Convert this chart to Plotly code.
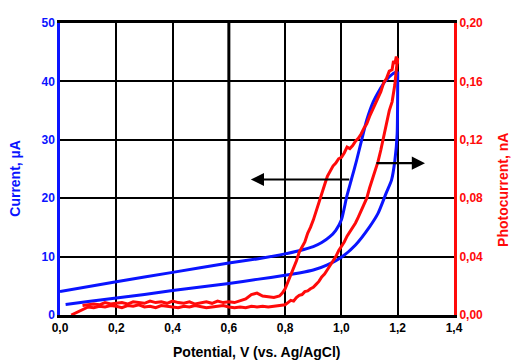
import plotly.graph_objects as go

# Current (left axis, µA) - forward (lower) branch
cur_fwd_v = [0.02, 0.1, 0.2, 0.3, 0.4, 0.5, 0.6, 0.7, 0.8, 0.85, 0.9, 0.95, 1.0, 1.05, 1.1, 1.13, 1.16, 1.178, 1.19, 1.198, 1.2]
cur_fwd_i = [1.8, 2.3, 2.9, 3.5, 4.2, 4.8, 5.4, 6.1, 6.8, 7.2, 7.7, 8.6, 9.9, 12.0, 15.1, 17.4, 21.0, 23.1, 26.5, 31.0, 41.7]
# Current - reverse (upper) branch
cur_rev_v = [1.2, 1.18, 1.155, 1.135, 1.113, 1.09, 1.072, 1.054, 1.036, 1.019, 1.0, 0.98, 0.959, 0.93, 0.9, 0.85, 0.782, 0.7, 0.6, 0.4, 0.2, 0.0]
cur_rev_i = [41.7, 41.2, 40.0, 38.5, 36.5, 33.4, 30.0, 26.5, 23.3, 20.3, 16.3, 14.5, 13.4, 12.4, 11.7, 11.0, 10.3, 9.6, 8.9, 7.3, 5.7, 4.0]

# Photocurrent (right axis, nA) - forward branch
ph_fwd_v = [0.04, 0.06, 0.08, 0.10, 0.12, 0.14, 0.16, 0.18, 0.20, 0.22, 0.24, 0.26, 0.28, 0.30,
            0.32, 0.34, 0.36, 0.38, 0.40, 0.42, 0.44, 0.46, 0.48, 0.50, 0.52, 0.54, 0.56, 0.58,
            0.60, 0.62, 0.64, 0.66, 0.68, 0.70, 0.72, 0.74, 0.76, 0.78, 0.80, 0.81, 0.82, 0.83,
            0.84, 0.85, 0.86, 0.87, 0.88, 0.89, 0.90, 0.91, 0.92, 0.93, 0.94, 0.95, 0.96, 0.97,
            0.98, 0.99, 1.00, 1.01, 1.02, 1.03, 1.04, 1.05, 1.06, 1.07, 1.08, 1.09, 1.10, 1.11,
            1.12, 1.13, 1.14, 1.15, 1.16, 1.17, 1.18, 1.19, 1.195, 1.2]
ph_fwd_i = [0.000, 0.002, 0.004, 0.0055, 0.005, 0.006, 0.0055, 0.0065, 0.006, 0.005, 0.0065, 0.006, 0.007, 0.0055,
            0.006, 0.005, 0.0065, 0.006, 0.0055, 0.005, 0.006, 0.0055, 0.0065, 0.006, 0.005, 0.0055, 0.006, 0.0065,
            0.0055, 0.005, 0.0055, 0.005, 0.006, 0.0055, 0.006, 0.0055, 0.006, 0.0065, 0.007, 0.0085, 0.010, 0.0095,
            0.012, 0.0135, 0.014, 0.016, 0.0165, 0.018, 0.019, 0.021, 0.023, 0.026, 0.028, 0.031, 0.034, 0.037,
            0.040, 0.044, 0.047, 0.050, 0.054, 0.057, 0.060, 0.063, 0.067, 0.071, 0.075, 0.080, 0.087, 0.093,
            0.098, 0.105, 0.113, 0.122, 0.131, 0.140, 0.146, 0.158, 0.168, 0.176]
# Photocurrent - reverse branch
ph_rev_v = [1.2, 1.195, 1.19, 1.185, 1.18, 1.17, 1.16, 1.15, 1.14, 1.13, 1.12, 1.11, 1.10, 1.09, 1.08,
            1.07, 1.06, 1.05, 1.04, 1.03, 1.02, 1.01, 1.00, 0.99, 0.98, 0.97, 0.96, 0.95, 0.94, 0.93,
            0.92, 0.91, 0.90, 0.89, 0.88, 0.87, 0.86, 0.85, 0.84, 0.83, 0.82, 0.81, 0.80, 0.79, 0.78,
            0.76, 0.74, 0.72, 0.70, 0.68, 0.66, 0.64, 0.62, 0.60, 0.58, 0.56, 0.54, 0.52, 0.50, 0.48,
            0.46, 0.44, 0.42, 0.40, 0.38, 0.36, 0.34, 0.32, 0.30, 0.28, 0.26, 0.24, 0.22, 0.20, 0.18,
            0.16, 0.14, 0.12, 0.10, 0.08]
ph_rev_i = [0.172, 0.177, 0.172, 0.174, 0.168, 0.167, 0.162, 0.159, 0.153, 0.149, 0.145, 0.141, 0.136, 0.131, 0.128,
            0.124, 0.121, 0.119, 0.116, 0.114, 0.115, 0.111, 0.108, 0.107, 0.104, 0.102, 0.098, 0.095, 0.089, 0.083,
            0.076, 0.070, 0.065, 0.060, 0.056, 0.050, 0.046, 0.043, 0.037, 0.032, 0.027, 0.022, 0.018, 0.015, 0.013,
            0.012, 0.0125, 0.013, 0.015, 0.014, 0.011, 0.0095, 0.0085, 0.009, 0.0085, 0.0095, 0.008, 0.009, 0.0085, 0.0075,
            0.009, 0.008, 0.0085, 0.0095, 0.008, 0.009, 0.0085, 0.0095, 0.008, 0.0085, 0.009, 0.0075, 0.0085, 0.008, 0.0075,
            0.0085, 0.007, 0.0075, 0.007, 0.0065]

x_ticks = [0.0, 0.2, 0.4, 0.6, 0.8, 1.0, 1.2, 1.4]
y_ticks = [0, 10, 20, 30, 40, 50]
y2_ticks = [0.00, 0.04, 0.08, 0.12, 0.16, 0.20]

# arrows: (x_from, x_to, y_on_left_axis)
arrow_left = (1.033, 0.678, 23.2)
arrow_right = (1.119, 1.297, 26.0)

BLUE = "#0a14ff"
RED = "#ff0a0a"
FONT = "Liberation Sans"

fig = go.Figure()
fig.add_trace(go.Scatter(x=cur_fwd_v, y=cur_fwd_i, mode="lines",
                         line=dict(color=BLUE, width=3, shape="spline", smoothing=0.6), yaxis="y"))
fig.add_trace(go.Scatter(x=cur_rev_v, y=cur_rev_i, mode="lines",
                         line=dict(color=BLUE, width=3, shape="spline", smoothing=0.6), yaxis="y"))
fig.add_trace(go.Scatter(x=ph_fwd_v, y=ph_fwd_i, mode="lines", line=dict(color=RED, width=3), yaxis="y2"))
fig.add_trace(go.Scatter(x=ph_rev_v, y=ph_rev_i, mode="lines", line=dict(color=RED, width=3), yaxis="y2"))

for (x0, x1, yv) in (arrow_left, arrow_right):
    fig.add_annotation(x=x1, y=yv, ax=x0, ay=yv, xref="x", yref="y", axref="x", ayref="y",
                       showarrow=True, arrowhead=2, arrowsize=1.2, arrowwidth=2.2, arrowcolor="black", text="")

# thicker vertical grid line at 0.6
fig.add_shape(type="line", xref="x", yref="paper", x0=0.6, x1=0.6, y0=0, y1=1,
              line=dict(color="black", width=3), layer="below")

# axis titles
fig.add_annotation(text="Potential, V (vs. Ag/AgCl)", xref="paper", yref="paper", x=0.5, y=-0.127,
                   xanchor="center", yanchor="middle", showarrow=False,
                   font=dict(family=FONT, size=14, color="black", weight="bold"))
fig.add_annotation(text="Current, µA", xref="paper", yref="paper", x=-0.114, y=0.467, textangle=-90,
                   xanchor="center", yanchor="middle", showarrow=False,
                   font=dict(family=FONT, size=14, color=BLUE, weight="bold"))
fig.add_annotation(text="Photocurrent, nA", xref="paper", yref="paper", x=1.124, y=0.428, textangle=-90,
                   xanchor="center", yanchor="middle", showarrow=False,
                   font=dict(family=FONT, size=14, color=RED, weight="bold"))

fig.update_layout(
    width=519, height=363,
    margin=dict(l=60, r=65, t=23, b=48),
    paper_bgcolor="white", plot_bgcolor="white",
    showlegend=False,
    separators=",.",
    font=dict(family=FONT, size=12, color="black"),
    xaxis=dict(range=[0, 1.4], tickvals=x_ticks, tickformat=".1f", automargin=False,
               showgrid=True, gridcolor="black", gridwidth=1.8,
               showline=True, linecolor="black", linewidth=3, mirror=True,
               zeroline=False, ticks="",
               tickfont=dict(family=FONT, size=12, color="black", weight="bold")),
    yaxis=dict(range=[0, 50], tickvals=y_ticks, automargin=False,
               showgrid=True, gridcolor="black", gridwidth=1.8,
               showline=True, linecolor=BLUE, linewidth=2.5,
               zeroline=False, ticks="",
               tickfont=dict(family=FONT, size=12, color=BLUE, weight="bold")),
    yaxis2=dict(range=[0, 0.2], tickvals=y2_ticks, tickformat=".2f", overlaying="y", side="right",
                automargin=False,
                showgrid=False, showline=True, linecolor=RED, linewidth=3,
                zeroline=False, ticks="",
                tickfont=dict(family=FONT, size=12, color=RED, weight="bold")),
)

fig.write_html("out.html")
